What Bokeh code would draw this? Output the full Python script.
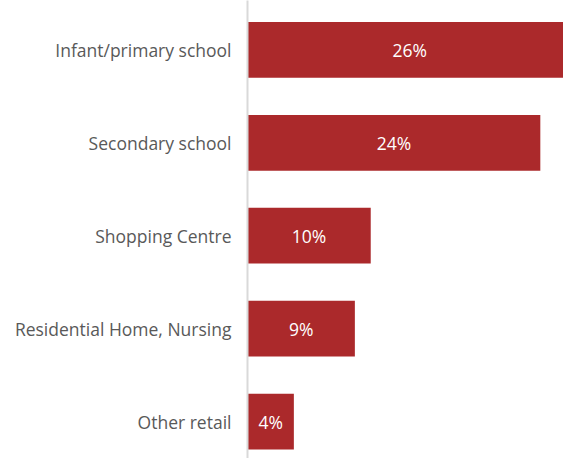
from bokeh.plotting import figure
from bokeh.models import ColumnDataSource, Range1d, FixedTicker, LabelSet
from bokeh.embed import file_html
from bokeh.resources import INLINE
from bokeh.core.properties import value

categories = ["Infant/primary school", "Secondary school", "Shopping Centre",
              "Residential Home, Nursing", "Other retail"]
values = [26.6, 24.0, 10.1, 8.8, 3.8]
labels = ["26%", "24%", "10%", "9%", "4%"]

pos = list(range(len(categories)))
src = ColumnDataSource(dict(
    y=pos, v=values, mid=[v / 2 for v in values], lab=labels))

p = figure(width=563, height=458, output_backend="svg", toolbar_location=None,
           x_range=Range1d(0, 25.9), y_range=Range1d(4.398, -0.532),
           x_axis_location=None, min_border_left=247, min_border_right=0,
           min_border_top=0, min_border_bottom=0)
p.outline_line_color = None
p.grid.visible = False

p.hbar(y="y", left=0, right="v", height=0.6, source=src,
       fill_color="#AB292B", line_color=None)

p.add_layout(LabelSet(x="mid", y="y", text="lab", source=src,
                      text_align="center", text_baseline="middle",
                      text_color="white", text_font=value("Open Sans"),
                      text_font_size="17.5px"))

ax = p.yaxis[0]
ax.ticker = FixedTicker(ticks=pos)
ax.major_label_overrides = {i: c for i, c in zip(pos, categories)}
ax.major_tick_line_color = None
ax.minor_tick_line_color = None
ax.axis_line_color = "#D9D9D9"
ax.axis_line_width = 2
ax.major_label_text_font = "Open Sans"
ax.major_label_text_font_size = "17.5px"
ax.major_label_text_color = "#595959"
ax.major_label_standoff = 10

open("out.html", "w").write(file_html(p, INLINE))
